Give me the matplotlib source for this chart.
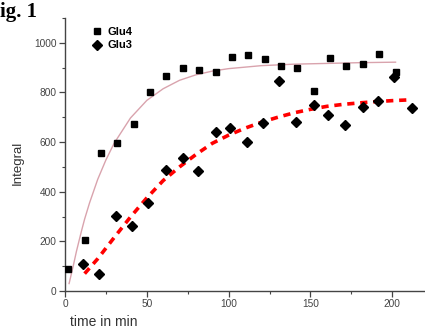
import matplotlib
matplotlib.use("Agg")
import matplotlib.pyplot as plt
from matplotlib.ticker import MultipleLocator

# Data
glu4_t = [2, 12, 22, 32, 42, 52, 62, 72, 82, 92, 102, 112, 122, 132, 142, 152, 162, 172, 182, 192, 202]
glu4_y = [90, 205, 556, 597, 673, 802, 867, 899, 891, 883, 943, 951, 935, 907, 899, 806, 939, 907, 915, 955, 883]

glu3_t = [11, 21, 31, 41, 51, 62, 72, 81, 92, 101, 111, 121, 131, 141, 152, 161, 171, 182, 191, 201, 212]
glu3_y = [109, 68, 302, 262, 355, 488, 536, 484, 641, 657, 601, 677, 847, 680, 750, 710, 669, 742, 766, 863, 738]

fit4_t = [2.5, 5, 7, 10, 12, 15, 20, 25, 30, 40, 50, 60, 70, 80, 90, 100, 120, 140, 160, 180, 202]
fit4_y = [30, 100, 160, 240, 290, 355, 450, 528, 595, 697, 768, 815, 849, 871, 886, 896, 908, 914, 917, 920, 922]

fit3_t = [12, 20, 30, 40, 50, 60, 70, 80, 90, 100, 110, 120, 130, 140, 150, 160, 170, 180, 190, 200, 210]
fit3_y = [70, 130, 215, 298, 375, 445, 500, 550, 595, 628, 656, 680, 700, 718, 732, 744, 752, 758, 763, 767, 770]

fig = plt.figure(figsize=(4.25, 3.33), dpi=100)
ax = fig.add_axes([65/425, 42/333, 360/425, 273/333])

ax.plot(fit4_t, fit4_y, color="#d9a3ad", lw=1.0, zorder=1)
ax.plot(fit3_t, fit3_y, color="#ff0000", lw=2.6, ls=(0, (2.0, 1.6)), zorder=1)
ax.plot(glu4_t, glu4_y, ls="none", marker="s", ms=4.8, color="black", label="Glu4", zorder=3)
ax.plot(glu3_t, glu3_y, ls="none", marker="D", ms=5.2, color="black", label="Glu3", zorder=3)

ax.set_xlim(0, 220)
ax.set_ylim(0, 1100)
ax.xaxis.set_major_locator(MultipleLocator(50))
ax.xaxis.set_minor_locator(MultipleLocator(25))
ax.yaxis.set_major_locator(MultipleLocator(200))
ax.yaxis.set_minor_locator(MultipleLocator(100))
ax.set_yticks([0, 200, 400, 600, 800, 1000])

for s in ("top", "right"):
    ax.spines[s].set_visible(False)
for s in ("left", "bottom"):
    ax.spines[s].set_color("#444444")
    ax.spines[s].set_linewidth(1.0)

ax.tick_params(which="major", direction="out", length=4, width=0.9, color="#444444",
               labelsize=7.3, labelcolor="#444444", pad=2)
ax.tick_params(which="minor", direction="out", length=2, width=0.8, color="#444444")
for lab in ax.get_xticklabels() + ax.get_yticklabels():
    lab.set_fontfamily("Liberation Sans")

ax.set_xlabel("time in min", fontsize=10, color="#333333", family="Liberation Sans", va="center")
ax.xaxis.set_label_coords(0.108, -0.114)
ax.set_ylabel("Integral", fontsize=9.5, color="#333333", family="Liberation Sans", va="center")
ax.yaxis.set_label_coords(-0.132, 0.47)

leg = ax.legend(loc="upper left", bbox_to_anchor=(0.065, 0.985), frameon=False,
                prop={"family": "Liberation Sans", "weight": "bold", "size": 8},
                handlelength=0.8, handletextpad=0.5, labelspacing=0.35, borderaxespad=0)

fig.text(0.0, 1 - 17/333, "ig. 1", family="Liberation Serif", weight="bold",
         fontsize=15, va="baseline", ha="left")

fig.savefig("out.png", dpi=100)
